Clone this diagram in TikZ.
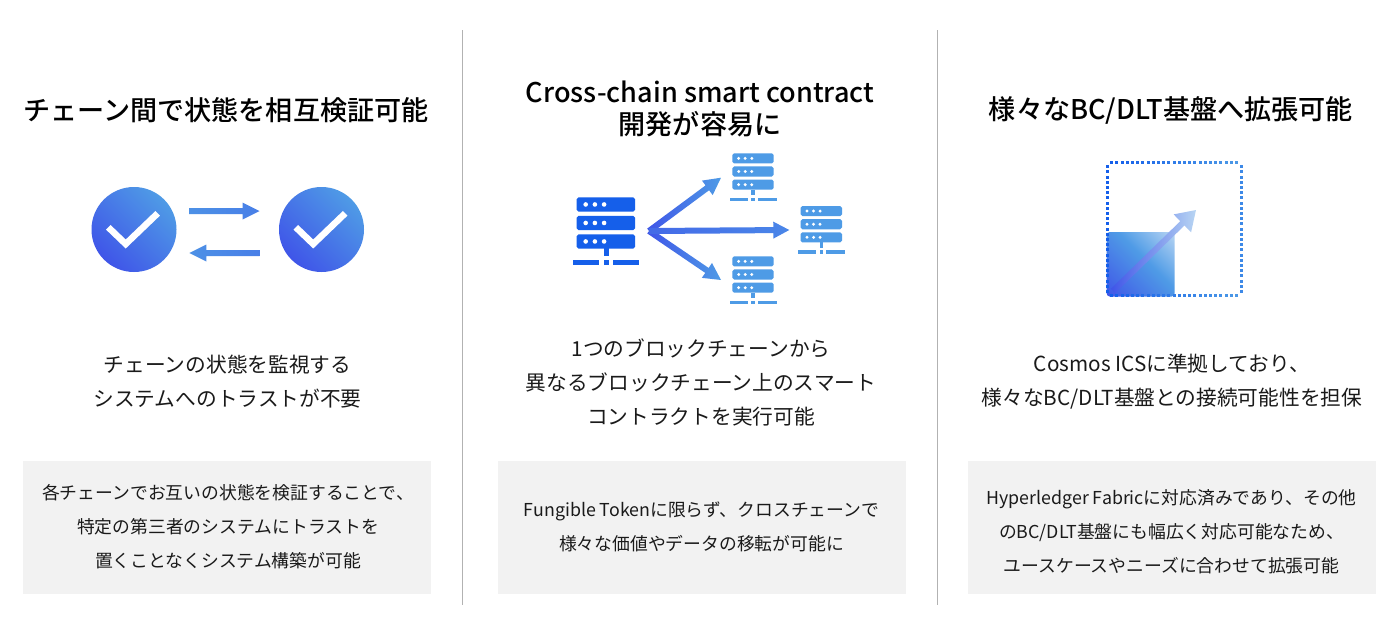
\documentclass[tikz,border=0pt]{standalone}
\usepackage{fontspec}
\setmainfont{Noto Sans CJK JP}
\newfontfamily\headfont{Noto Sans CJK JP Medium}
\usetikzlibrary{calc}
\definecolor{gA}{HTML}{3F55E8}
\definecolor{gM}{HTML}{4A86E8}
\definecolor{gB}{HTML}{4F9BE6}
\definecolor{gC}{HTML}{B8D5F3}
\definecolor{srvA}{HTML}{155FEA}
\definecolor{srvB}{HTML}{4E9BE6}
\definecolor{panel}{HTML}{F2F2F2}
\definecolor{ruleg}{HTML}{B2B2B2}
\definecolor{txt}{HTML}{1A1A1A}
\pgfdeclareverticalshading{squarediag}{100bp}{color(0bp)=(gA); color(14.6bp)=(gA); color(55bp)=(gB); color(85.4bp)=(gC); color(100bp)=(gC)}
\tikzset{
  headtxt/.style={align=center,inner sep=0pt,text=black,font=\headfont\fontsize{27.1}{32}\selectfont},
  bodytxt/.style={align=center,inner sep=0pt,text=txt,font=\fontsize{20.7}{34}\selectfont},
  boxtxt/.style={align=center,inner sep=0pt,text=txt,font=\fontsize{17.8}{34}\selectfont},
  panelbox/.style={fill=panel,draw=none},
  divider/.style={draw=ruleg,line width=1pt},
  badge/.style={circle,minimum size=85pt,inner sep=0pt,draw=none,bottom color=gA,middle color=gM,top color=gB,shading angle=-45},
  tick/.style={draw=white,line width=6.5pt,miter limit=10},
}
% block arrow: #1 start, #2 tip, #3 shaft width, #4 head length, #5 head half-width, #6 start colour, #7 end colour
\newcommand{\blockarrow}[7]{%
  \path let \p1=($(#2)-(#1)$), \n1={veclen(\x1,\y1)}, \n2={atan2(\y1,\x1)} in
    [shift={(#1)},rotate=\n2]
    [shade,shading=axis,left color=#6,right color=#7]
    (0,-#3/2) -- (\n1-#4,-#3/2) -- (\n1-#4,-#5) -- (\n1,0) -- (\n1-#4,#5) -- (\n1-#4,#3/2) -- (0,#3/2) -- cycle;%
}
% server icon: #1 x, #2 y (top left of rows), #3 scale, #4 colour
\newcommand{\servericon}[4]{%
  \begin{scope}[shift={(#1,#2)},scale=#3]
    \foreach \r in {0,18.5,37}{
      \fill[#4,rounded corners=1.8pt] (0,\r) rectangle (58.3,\r+14.3);
      \foreach \d in {9,18.2,27.4}{\fill[white] (\d,\r+7.15) circle (2.3);}
    }
    \fill[#4] (27,51) rectangle (32,59);
    \fill[#4] (-3.8,62.5) rectangle (22.3,67.5);
    \fill[#4] (26.8,62.5) rectangle (32.2,67.5);
    \fill[#4] (36.3,62.5) rectangle (62.3,67.5);
  \end{scope}%
}
\newcommand{\sqdot}[3]{\fill[#3] (#1-1.5,#2-1.5) rectangle (#1+1.5,#2+1.5);}
\begin{document}
\begin{tikzpicture}[x=1pt,y=-1pt]
\useasboundingbox (0,0) rectangle (1400,643);
\fill[white] (0,0) rectangle (1400,643);
% dividers
\coordinate (d1t) at (462.5,30); \coordinate (d1b) at (462.5,605);
\coordinate (d2t) at (937.5,30); \coordinate (d2b) at (937.5,605);
\draw[divider] (d1t) -- (d1b);
\draw[divider] (d2t) -- (d2b);
% panels
\fill[panelbox] (23,461) rectangle (431,594);
\fill[panelbox] (498,461) rectangle (906,594);
\fill[panelbox] (968,461) rectangle (1376,594);
% headings
\node[headtxt] (h1) at (226,110) {チェーン間で状態を相互検証可能};
\node[headtxt] (h2) at (700,109) {Cross-chain smart contract\\開発が容易に};
\node[headtxt] (h3) at (1171,110) {様々なBC/DLT基盤へ拡張可能};
% body
\node[bodytxt] (b1) at (227.5,382) {チェーンの状態を監視する\\システムへのトラストが不要};
\node[bodytxt] (b2) at (701,382) {1つのブロックチェーンから\\異なるブロックチェーン上のスマート\\コントラクトを実行可能};
\node[bodytxt] (b3) at (1172,382) {Cosmos ICSに準拠しており、\\様々なBC/DLT基盤との接続可能性を担保};
% panel text
\node[boxtxt] (p1) at (228,526.5) {各チェーンでお互いの状態を検証することで、\\特定の第三者のシステムにトラストを\\置くことなくシステム構築が可能};
\node[boxtxt] (p2) at (701.5,526.5) {Fungible Tokenに限らず、クロスチェーンで\\様々な価値やデータの移転が可能に};
\node[boxtxt] (p3) at (1171.5,531.5) {Hyperledger Fabricに対応済みであり、その他\\のBC/DLT基盤にも幅広く対応可能なため、\\ユースケースやニーズに合わせて拡張可能};
% icon 1
\node[badge] (c1) at (134,229.5) {};
\node[badge] (c2) at (321.5,229.5) {};
\draw[tick] ($(c1)+(-25.7,-2.2)$) -- ($(c1)+(-8.3,14.5)$) -- ($(c1)+(23.7,-16.2)$);
\draw[tick] ($(c2)+(-25.7,-2.2)$) -- ($(c2)+(-8.3,14.5)$) -- ($(c2)+(23.7,-16.2)$);
\coordinate (a1s) at (189,211); \coordinate (a1e) at (259.5,211);
\coordinate (a2s) at (259.5,253); \coordinate (a2e) at (189.3,253);
\blockarrow{a1s}{a1e}{6}{17}{8.5}{gB!85!gA}{gA!40!gB}
\blockarrow{a2s}{a2e}{6}{17}{8.5}{gB!85!gA}{gA!40!gB}
% icon 2
\servericon{576.7}{197.3}{1}{srvA}
\servericon{732.3}{153.3}{0.71}{srvB}
\servericon{800.6}{206}{0.71}{srvB}
\servericon{732.3}{256.3}{0.71}{srvB}
\coordinate (src) at (649,231);
\coordinate (t1) at (721,177.7);
\coordinate (t2) at (789.3,230);
\coordinate (t3) at (721,280);
\blockarrow{src}{t1}{6}{17}{9}{gA}{gB}
\blockarrow{src}{t3}{6}{17}{9}{gA}{gB}
\blockarrow{src}{t2}{6}{16}{8.5}{gA!70!gB}{gM}
% icon 3
\shade[rounded corners=3pt,shading=squarediag,shading angle=-45] (1106.7,232) rectangle (1174.5,296.5);
\foreach \i in {0,...,24}{
  \pgfmathsetmacro{\px}{1111.7+\i*5.2}
  \pgfmathsetmacro{\py}{166.7+\i*5.2}
  \pgfmathsetmacro{\m}{\i*4}
  \sqdot{\px}{295.6}{srvB!\m!srvA}
  \sqdot{\px}{162.4}{srvB!\m!srvA}
  \sqdot{1107.6}{\py}{srvA}
  \sqdot{1241.6}{\py}{srvB!70!srvA}
}
\coordinate (a3s) at (1113,291); \coordinate (a3e) at (1196,210);
\blockarrow{a3s}{a3e}{6}{19}{12.5}{gA}{gC}
\end{tikzpicture}
\end{document}
